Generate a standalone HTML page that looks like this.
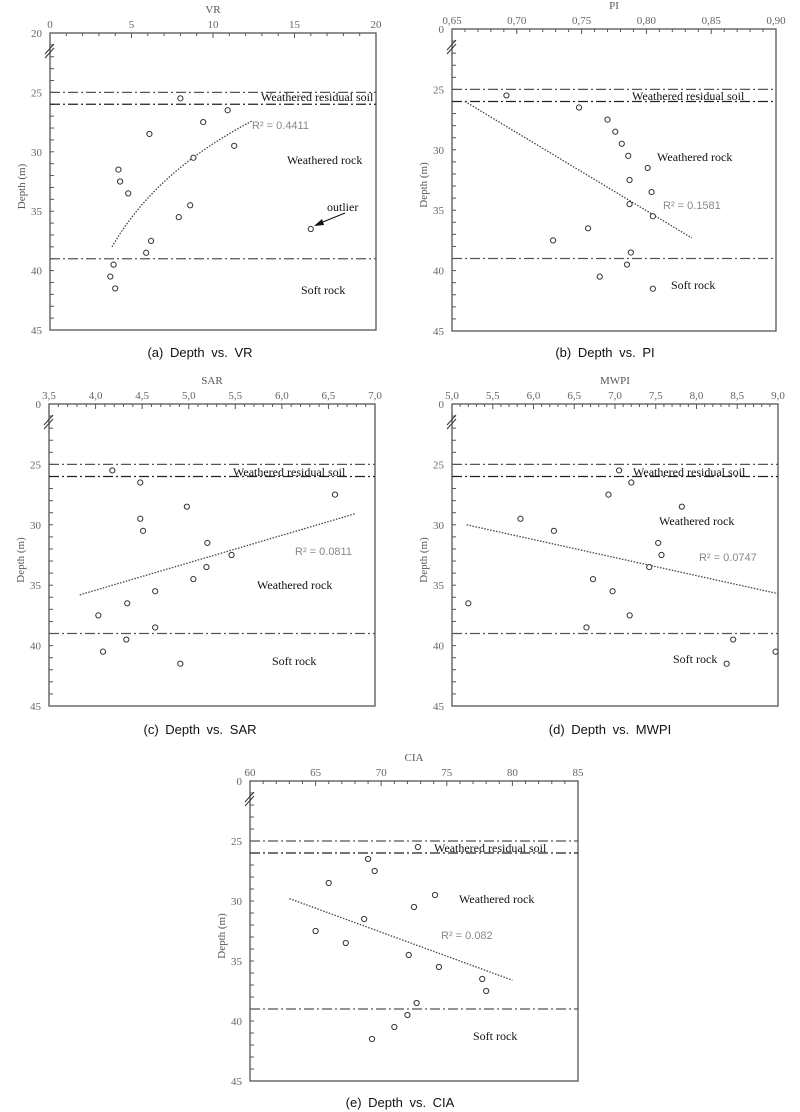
<!DOCTYPE html>
<html><head><meta charset="utf-8">
<style>
html,body{margin:0;padding:0;background:#fff;}
svg{display:block;}
.tk{font-family:"Liberation Serif",serif;font-size:11px;fill:#666;}
.ttl{font-family:"Liberation Serif",serif;font-size:11px;fill:#555;}
.reg{font-family:"Liberation Serif",serif;font-size:12px;fill:#111;}
.r2{font-family:"Liberation Sans",sans-serif;font-size:11px;fill:#888;}
.cap{font-family:"Liberation Sans","Noto Sans CJK KR",sans-serif;font-size:13px;fill:#111;word-spacing:3px;}
</style></head>
<body>
<svg id="chart" width="800" height="1112" viewBox="0 0 800 1112" xmlns="http://www.w3.org/2000/svg"></svg>
<script>
const depths = [25.5,26.5,27.5,28.5,29.5,30.5,31.5,32.5,33.5,34.5,35.5,36.5,37.5,38.5,39.5,40.5,41.5];
const vrValues = [8.0,10.9,9.4,6.1,11.3,8.8,4.2,4.3,4.8,8.6,7.9,16.0,6.2,5.9,3.9,3.7,4.0];
const piValues = [0.692,0.748,0.770,0.776,0.781,0.786,0.801,0.787,0.804,0.787,0.805,0.755,0.728,0.788,0.785,0.764,0.805];
const sarValues = [4.18,4.48,6.57,4.98,4.48,4.51,5.20,5.46,5.19,5.05,4.64,4.34,4.03,4.64,4.33,4.08,4.91];
const mwpiValues = [7.05,7.20,6.92,7.82,5.84,6.25,7.53,7.57,7.42,6.73,6.97,5.20,7.18,6.65,8.45,8.97,8.37];
const ciaValues = [72.8,69.0,69.5,66.0,74.1,72.5,68.7,65.0,67.3,72.1,74.4,77.7,78.0,72.7,72.0,71.0,69.3];
const vrTicks = ["0","5","10","15","20"];
const piTicks = ["0,65","0,70","0,75","0,80","0,85","0,90"];
const sarTicks = ["3,5","4,0","4,5","5,0","5,5","6,0","6,5","7,0"];
const mwpiTicks = ["5,0","5,5","6,0","6,5","7,0","7,5","8,0","8,5","9,0"];
const ciaTicks = ["60","65","70","75","80","85"];
const boundaryDepths = [25,26,39];
const vrTrend = [49.96,-8.96,3.8,12.4];
const piTrend = [0.660,26.0,0.835,37.3];
const sarTrend = [3.83,35.8,6.78,29.1];
const mwpiTrend = [5.18,30.0,9.0,35.7];
const ciaTrend = [63.0,29.8,80.0,36.6];
const r2Labels = ["R² = 0.4411","R² = 0.1581","R² = 0.0811","R² = 0.0747","R² = 0.082"];

const svg = document.getElementById('chart');
const NS = 'http://www.w3.org/2000/svg';
function mk(tag, attrs, parent){
  const e = document.createElementNS(NS, tag);
  for (const k in attrs) e.setAttribute(k, attrs[k]);
  (parent||svg).appendChild(e);
  return e;
}

const panels = [
 {key:'vr', title:'VR', x0:0, x1:20, ticks:vrTicks, minor:5, vals:vrValues, L:50,R:376,T:33,B:330, topLabel:'20', trend:'log', tr:vrTrend, r2:[252,129],
  res:[261,101], rock:[287,164], soft:[301,294], cap:[200,357], capText:'(a) Depth vs. VR', outlier:true},
 {key:'pi', title:'PI', x0:0.65, x1:0.90, ticks:piTicks, minor:5, vals:piValues, L:452,R:776,T:29,B:331, topLabel:'0', tr:piTrend, r2:[663,209],
  res:[632,100], rock:[657,161], soft:[671,289], cap:[605,357], capText:'(b) Depth vs. PI'},
 {key:'sar', title:'SAR', x0:3.5, x1:7.0, ticks:sarTicks, minor:5, vals:sarValues, L:49,R:375,T:404,B:706, topLabel:'0', tr:sarTrend, r2:[295,555],
  res:[233,476], rock:[257,589], soft:[272,665], cap:[200,734], capText:'(c) Depth vs. SAR'},
 {key:'mwpi', title:'MWPI', x0:5.0, x1:9.0, ticks:mwpiTicks, minor:5, vals:mwpiValues, L:452,R:778,T:404,B:706, topLabel:'0', tr:mwpiTrend, r2:[699,561],
  res:[633,476], rock:[659,525], soft:[673,663], cap:[610,734], capText:'(d) Depth vs. MWPI'},
 {key:'cia', title:'CIA', x0:60, x1:85, ticks:ciaTicks, minor:5, vals:ciaValues, L:250,R:578,T:781,B:1081, topLabel:'0', tr:ciaTrend, r2:[441,939],
  res:[434,852], rock:[459,903], soft:[473,1040], cap:[400,1107], capText:'(e) Depth vs. CIA'}
];

panels.forEach((p,pi)=>{
  const g = mk('g',{});
  
  
  const xs = v => p.L + (v-p.x0)/(p.x1-p.x0)*(p.R-p.L);
  const ys = d => p.T + (d-20)/25*(p.B-p.T);
  const fr = mk('rect',{x:p.L,y:p.T,width:p.R-p.L,height:p.B-p.T,fill:'none',stroke:'#555','stroke-width':1.3},g);
  
  
  const n = p.ticks.length-1;
  for(let i=0;i<=n*p.minor;i++){
    const x = p.L + i/(n*p.minor)*(p.R-p.L);
    const major = i%p.minor===0;
    mk('line',{x1:x,x2:x,y1:p.T,y2:p.T+(major?5:3),stroke:'#555','stroke-width':1},g);
  }
  p.ticks.forEach((t,i)=>{
    const tx = mk('text',{x:p.L+i/n*(p.R-p.L),y:p.T-5,'text-anchor':'middle',class:'tk'},g);
    tx.textContent=t;
    
    
  });
  const tt = mk('text',{x:(p.L+p.R)/2,y:p.T-20,'text-anchor':'middle',class:'ttl'},g);
  tt.textContent=p.title;
  
  
  for(let d=21; d<45; d++){
    mk('line',{x1:p.L,x2:p.L+4,y1:ys(d),y2:ys(d),stroke:'#555','stroke-width':1},g);
  }
  [20,25,30,35,40,45].forEach(d=>{
    const ty = mk('text',{x:p.L-8,y:ys(d)+4,'text-anchor':'end',class:'tk'},g);
    ty.textContent = d===20 ? p.topLabel : String(d);
    
    
  });
  const by = p.T+17;
  mk('line',{x1:p.L-5,y1:by+4,x2:p.L+4,y2:by-6,stroke:'#333','stroke-width':1},g);
  mk('line',{x1:p.L-5,y1:by+8,x2:p.L+4,y2:by-2,stroke:'#333','stroke-width':1},g);
  const yt = mk('text',{x:0,y:0,'text-anchor':'middle',class:'ttl',transform:`translate(${p.L-25},${(p.T+p.B)/2+5}) rotate(-90)`},g);
  yt.textContent='Depth (m)';
  
  
  boundaryDepths.forEach((d,i)=>{
    const l = mk('line',{x1:p.L,x2:p.R,y1:ys(d),y2:ys(d),stroke:i===1?'#222':'#555','stroke-width':1.2,'stroke-dasharray':'10,3,2,3'},g);
    
    
  });
  let pts=[];
  if(p.trend==='log'){
    const [a,b,xa,xb]=p.tr;
    for(let i=0;i<=40;i++){const x=xa+(xb-xa)*i/40; pts.push(xs(x)+','+ys(a+b*Math.log(x)));}
  } else {
    pts=[xs(p.tr[0])+','+ys(p.tr[1]), xs(p.tr[2])+','+ys(p.tr[3])];
  }
  const tl = mk('polyline',{points:pts.join(' '),fill:'none',stroke:'#444','stroke-width':1.3,'stroke-dasharray':'1.5,1.5'},g);
  
  
  p.vals.forEach((v,i)=>{
    const c = mk('circle',{cx:xs(v),cy:ys(depths[i]),r:2.6,fill:'#fff',stroke:'#333','stroke-width':1},g);
    
    
  });
  const lab=(t,pos,cls,name)=>{const e=mk('text',{x:pos[0],y:pos[1],class:cls},g); e.textContent=t;
      return e;};
  lab('Weathered residual soil',p.res,'reg','residual-soil-label');
  lab('Weathered rock',p.rock,'reg','weathered-rock-label');
  lab('Soft rock',p.soft,'reg','soft-rock-label');
  lab(r2Labels[pi],p.r2,'r2','r-squared-label');
  const cp = mk('text',{x:p.cap[0],y:p.cap[1],'text-anchor':'middle',class:'cap'},svg);
  cp.textContent=p.capText;
  
  
  if(p.outlier){
    lab('outlier',[327,211],'reg','outlier-label');
    const ar = mk('line',{x1:345,y1:213,x2:318,y2:224,stroke:'#111','stroke-width':1},g);
    
    
    mk('polygon',{points:'314,226 322,219 324,225',fill:'#111'},g);
  }
});
</script>
</body></html>
